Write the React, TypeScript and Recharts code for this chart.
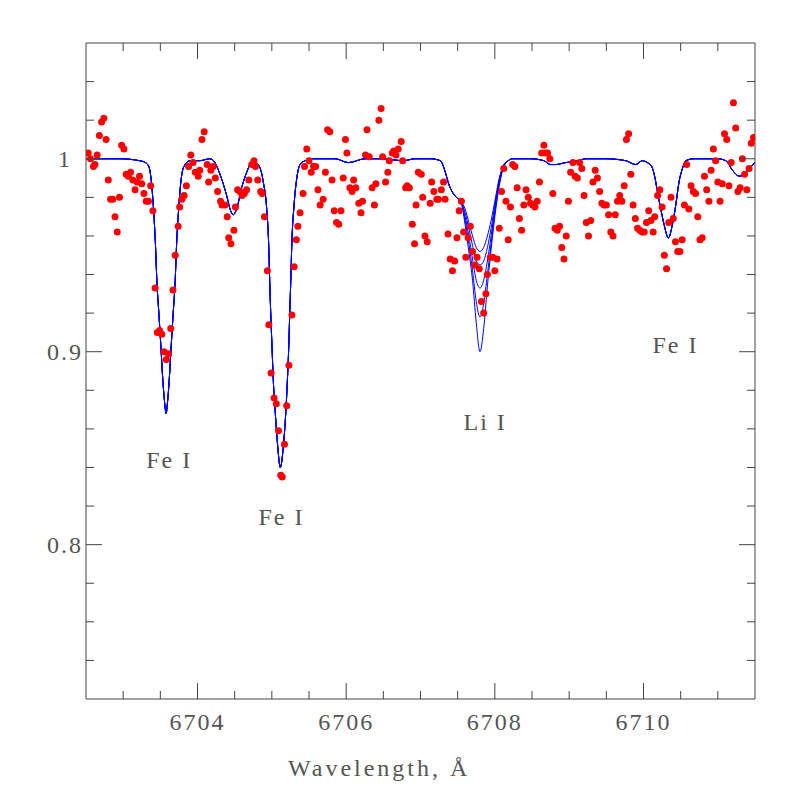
import { ComposedChart, XAxis, YAxis, Line, Scatter, ReferenceDot } from 'recharts';

// observed spectrum (wavelength in Å, normalised flux)
const obsWave = [
  6702.53, 6702.56, 6702.60, 6702.62, 6702.65, 6702.68, 6702.71, 6702.74, 6702.77, 6702.80,
  6702.83, 6702.86, 6702.89, 6702.92, 6702.95, 6702.98, 6703.01, 6703.04, 6703.07, 6703.10,
  6703.13, 6703.16, 6703.19, 6703.22, 6703.25, 6703.28, 6703.31, 6703.34, 6703.37, 6703.40,
  6703.43, 6703.46, 6703.49, 6703.52, 6703.55, 6703.58, 6703.61, 6703.64, 6703.67, 6703.70,
  6703.74, 6703.76, 6703.79, 6703.82, 6703.85, 6703.88, 6703.91, 6703.94, 6703.97, 6704.01,
  6704.03, 6704.06, 6704.09, 6704.13, 6704.15, 6704.18, 6704.21, 6704.24, 6704.27, 6704.31,
  6704.33, 6704.37, 6704.40, 6704.42, 6704.45, 6704.49, 6704.51, 6704.54, 6704.57, 6704.60,
  6704.63, 6704.66, 6704.69, 6704.73, 6704.76, 6704.78, 6704.81, 6704.85, 6704.87, 6704.90,
  6704.94, 6704.96, 6704.99, 6705.03, 6705.06, 6705.09, 6705.12, 6705.14, 6705.17, 6705.20,
  6705.23, 6705.27, 6705.30, 6705.33, 6705.35, 6705.38, 6705.42, 6705.44, 6705.47, 6705.50,
  6705.53, 6705.56, 6705.59, 6705.62, 6705.65, 6705.69, 6705.72, 6705.75, 6705.78, 6705.81,
  6705.84, 6705.87, 6705.90, 6705.93, 6705.96, 6705.99, 6706.01, 6706.05, 6706.08, 6706.10,
  6706.13, 6706.17, 6706.20, 6706.22, 6706.26, 6706.28, 6706.31, 6706.35, 6706.38, 6706.40,
  6706.44, 6706.47, 6706.49, 6706.53, 6706.56, 6706.58, 6706.62, 6706.64, 6706.67, 6706.70,
  6706.74, 6706.76, 6706.80, 6706.82, 6706.85, 6706.89, 6706.92, 6706.94, 6706.97, 6707.01,
  6707.03, 6707.06, 6707.09, 6707.13, 6707.15, 6707.18, 6707.22, 6707.24, 6707.28, 6707.31,
  6707.33, 6707.37, 6707.40, 6707.43, 6707.46, 6707.49, 6707.52, 6707.55, 6707.58, 6707.61,
  6707.64, 6707.67, 6707.70, 6707.73, 6707.76, 6707.79, 6707.82, 6707.85, 6707.88, 6707.90,
  6707.94, 6707.97, 6708.00, 6708.03, 6708.06, 6708.09, 6708.12, 6708.15, 6708.18, 6708.21,
  6708.24, 6708.27, 6708.30, 6708.33, 6708.36, 6708.39, 6708.42, 6708.45, 6708.48, 6708.51,
  6708.54, 6708.57, 6708.60, 6708.63, 6708.66, 6708.68, 6708.71, 6708.74, 6708.78, 6708.81,
  6708.84, 6708.87, 6708.90, 6708.93, 6708.96, 6708.99, 6709.02, 6709.05, 6709.08, 6709.11,
  6709.14, 6709.17, 6709.20, 6709.23, 6709.26, 6709.29, 6709.32, 6709.35, 6709.38, 6709.41,
  6709.44, 6709.47, 6709.50, 6709.53, 6709.56, 6709.59, 6709.62, 6709.65, 6709.68, 6709.71,
  6709.74, 6709.77, 6709.80, 6709.83, 6709.86, 6709.89, 6709.92, 6709.95, 6709.98, 6710.01,
  6710.04, 6710.07, 6710.10, 6710.13, 6710.15, 6710.19, 6710.22, 6710.25, 6710.28, 6710.31,
  6710.34, 6710.37, 6710.40, 6710.43, 6710.46, 6710.49, 6710.52, 6710.55, 6710.58, 6710.61,
  6710.64, 6710.67, 6710.70, 6710.73, 6710.76, 6710.79, 6710.82, 6710.85, 6710.88, 6710.91,
  6710.94, 6710.97, 6711.00, 6711.03, 6711.06, 6711.09, 6711.12, 6711.15, 6711.18, 6711.21,
  6711.24, 6711.27, 6711.30, 6711.33, 6711.36, 6711.39, 6711.42, 6711.45, 6711.48, 6711.50,
];

const obsFlux = [
  1.003, 1.000, 0.996, 0.997, 1.002, 1.012, 1.019, 1.021, 1.010, 0.989,
  0.979, 0.979, 0.970, 0.962, 0.980, 1.007, 1.005, 0.992, 0.991, 0.993,
  0.989, 0.984, 0.988, 0.991, 0.987, 0.982, 0.978, 0.978, 0.986, 0.973,
  0.933, 0.910, 0.911, 0.909, 0.900, 0.896, 0.899, 0.912, 0.932, 0.950,
  0.965, 0.975, 0.979, 0.981, 0.986, 0.996, 1.002, 0.998, 0.993, 0.991,
  0.994, 1.010, 1.014, 0.997, 0.988, 0.994, 0.996, 0.990, 0.983, 0.978,
  0.976, 0.976, 0.970, 0.959, 0.956, 0.963, 0.975, 0.984, 0.983, 0.981,
  0.982, 0.984, 0.989, 0.997, 0.999, 0.996, 0.989, 0.983, 0.982, 0.970,
  0.942, 0.914, 0.889, 0.876, 0.873, 0.859, 0.836, 0.835, 0.852, 0.872,
  0.893, 0.919, 0.944, 0.958, 0.965, 0.972, 0.982, 0.996, 1.005, 0.999,
  0.993, 0.996, 0.996, 0.984, 0.976, 0.979, 0.993, 1.015, 1.014, 0.989,
  0.973, 0.967, 0.966, 0.973, 0.990, 1.010, 1.003, 0.985, 0.983, 0.989,
  0.985, 0.977, 0.972, 0.978, 1.002, 1.015, 1.001, 0.985, 0.976, 0.987,
  1.020, 1.026, 1.001, 0.988, 0.993, 0.999, 1.003, 1.004, 1.002, 1.005,
  1.009, 0.999, 0.985, 0.986, 0.985, 0.966, 0.956, 0.976, 0.993, 0.992,
  0.980, 0.960, 0.957, 0.977, 0.988, 0.983, 0.979, 0.979, 0.984, 0.988,
  0.979, 0.961, 0.948, 0.942, 0.947, 0.959, 0.973, 0.978, 0.962, 0.949,
  0.959, 0.965, 0.952, 0.945, 0.949, 0.943, 0.926, 0.920, 0.930, 0.940,
  0.949, 0.949, 0.942, 0.948, 0.964, 0.983, 0.995, 0.978, 0.958, 0.975,
  0.997, 0.996, 0.985, 0.969, 0.963, 0.976, 0.984, 0.980, 0.977, 0.976,
  0.975, 0.978, 0.988, 1.003, 1.007, 1.003, 1.003, 1.000, 0.982, 0.964,
  0.963, 0.965, 0.954, 0.948, 0.960, 0.978, 0.993, 0.998, 0.991, 0.990,
  0.998, 0.995, 0.981, 0.967, 0.960, 0.968, 0.988, 0.994, 0.990, 0.983,
  0.977, 0.976, 0.976, 0.971, 0.962, 0.960, 0.971, 0.978, 0.981, 0.978,
  0.986, 1.010, 1.013, 0.992, 0.976, 0.969, 0.964, 0.963, 0.962, 0.962,
  0.967, 0.973, 0.968, 0.962, 0.970, 0.981, 0.984, 0.975, 0.950, 0.943,
  0.967, 0.980, 0.969, 0.957, 0.952, 0.952, 0.958, 0.976, 0.997, 0.974,
  0.986, 0.983, 0.982, 0.970, 0.958, 0.959, 0.991, 0.984, 0.978, 0.994,
  1.005, 0.999, 0.988, 0.978, 0.987, 1.013, 1.010, 0.986, 0.998, 1.029,
  1.016, 0.983, 0.985, 1.000, 0.992, 0.984, 0.995, 1.008, 1.011, 1.011,
];

// synthetic spectrum, common to all models outside the Li I blend
const modelWave = [
  6702.50, 6702.95, 6703.22, 6703.30, 6703.345, 6703.38, 6703.41, 6703.435, 6703.453, 6703.48,
  6703.507, 6703.534, 6703.557, 6703.578, 6703.597, 6703.619, 6703.646, 6703.673, 6703.70, 6703.718,
  6703.745, 6703.776, 6703.817, 6703.90, 6704.03, 6704.167, 6704.234, 6704.302, 6704.392, 6704.446,
  6704.481, 6704.527, 6704.594, 6704.662, 6704.729, 6704.774, 6704.832, 6704.885, 6704.931, 6704.958,
  6704.971, 6704.985, 6705.002, 6705.020, 6705.047, 6705.079, 6705.114, 6705.155, 6705.187, 6705.209,
  6705.228, 6705.241, 6705.255, 6705.268, 6705.299, 6705.336, 6705.380, 6705.448, 6705.559, 6705.85,
  6706.03, 6706.256, 6706.481, 6706.768, 6706.93, 6707.132, 6707.267, 6707.334, 6707.379, 6707.425,
  6707.482,
  6708.48, 6708.659, 6708.749, 6708.817, 6708.951, 6709.13, 6709.221, 6709.49, 6709.76, 6709.895,
  6709.985, 6710.052, 6710.11, 6710.155, 6710.187, 6710.232, 6710.276, 6710.335, 6710.389, 6710.434,
  6710.478, 6710.524, 6710.569, 6710.681, 6710.996, 6711.108, 6711.198, 6711.287, 6711.354, 6711.421,
  6711.50,
];

const modelFlux = [
  1.000, 1.000, 0.999, 0.998, 0.996, 0.988, 0.973, 0.955, 0.937, 0.920,
  0.903, 0.885, 0.874, 0.868, 0.874, 0.885, 0.903, 0.920, 0.937, 0.955,
  0.973, 0.988, 0.996, 0.999, 0.999, 1.000, 0.998, 0.992, 0.981, 0.973,
  0.971, 0.974, 0.985, 0.993, 0.998, 0.998, 0.996, 0.988, 0.974, 0.955,
  0.937, 0.920, 0.903, 0.885, 0.868, 0.851, 0.840, 0.851, 0.868, 0.885,
  0.903, 0.920, 0.937, 0.955, 0.976, 0.990, 0.997, 0.999, 1.000, 1.000,
  0.998, 1.000, 1.000, 0.999, 1.000, 1.000, 0.999, 0.993, 0.987, 0.983,
  0.980,
  1.000, 0.999, 0.997, 0.997, 0.998, 0.999, 1.000, 1.000, 0.999, 0.997,
  0.999, 0.998, 0.996, 0.990, 0.983, 0.974, 0.966, 0.959, 0.966, 0.976,
  0.988, 0.995, 0.999, 1.000, 1.000, 0.999, 0.994, 0.991, 0.992, 0.995,
  0.998,
];

// Li I 6707.8 blend for five lithium abundances
const liWave = [
  6707.54, 6707.60, 6707.65, 6707.70, 6707.75, 6707.80, 6707.85,
  6707.90, 6707.95, 6708.00, 6708.06, 6708.12, 6708.18, 6708.24,
];
const liFlux1 = [0.978, 0.974, 0.967, 0.960, 0.954, 0.952, 0.954, 0.960, 0.968, 0.978, 0.990, 0.997, 0.999, 1.000];
const liFlux2 = [0.978, 0.972, 0.964, 0.955, 0.947, 0.945, 0.947, 0.954, 0.964, 0.976, 0.989, 0.997, 0.999, 1.000];
const liFlux3 = [0.978, 0.970, 0.960, 0.948, 0.937, 0.933, 0.937, 0.947, 0.960, 0.974, 0.988, 0.996, 0.999, 1.000];
const liFlux4 = [0.978, 0.968, 0.956, 0.942, 0.926, 0.918, 0.925, 0.940, 0.956, 0.972, 0.987, 0.996, 0.999, 1.000];
const liFlux5 = [0.978, 0.966, 0.952, 0.937, 0.915, 0.900, 0.912, 0.934, 0.953, 0.970, 0.986, 0.996, 0.999, 1.000];

const lineNames = ['Fe I', 'Fe I', 'Li I', 'Fe I'];
const lineLabelWave = [6703.62, 6705.13, 6707.87, 6710.43];
const lineLabelFlux = [0.844, 0.8145, 0.864, 0.9035];

const xTicks = [6703, 6703.5, 6704, 6704.5, 6705, 6705.5, 6706, 6706.5, 6707, 6707.5, 6708, 6708.5, 6709, 6709.5, 6710, 6710.5, 6711];
const yTicks = [0.74, 0.76, 0.78, 0.8, 0.82, 0.84, 0.86, 0.88, 0.9, 0.92, 0.94, 0.96, 0.98, 1, 1.02, 1.04];

const FONT = '"Liberation Serif", "DejaVu Serif", serif';
const TICK = '#444';
const TEXT = '#555';

const observed = obsWave.map((w, i) => ({ w, f: obsFlux[i] }));
const base = modelWave.map((w, i) => ({ w, f: modelFlux[i] }));
const models = [liFlux1, liFlux2, liFlux3, liFlux4, liFlux5].map((lf) => [
  ...base.filter((p) => p.w < 6707.5),
  ...liWave.map((w, i) => ({ w, f: lf[i] })),
  ...base.filter((p) => p.w > 6708.3),
]);

function XTick(props: any) {
  const { x, y, payload, side } = props;
  const v = payload.value as number;
  const major = Math.abs(v % 2) < 1e-6;
  const len = major ? 16 : 8;
  const dir = side === 'top' ? 1 : -1;
  return (
    <g>
      <line x1={x} y1={y} x2={x} y2={y + dir * len} stroke={TICK} strokeWidth={1} />
      {major && side === 'bottom' && (
        <text x={x} y={y + 31} textAnchor="middle" fill={TEXT} fontSize={24} fontFamily={FONT} letterSpacing={2}>
          {v}
        </text>
      )}
    </g>
  );
}

function YTick(props: any) {
  const { x, y, payload, side } = props;
  const v = payload.value as number;
  const major = Math.abs(v * 10 - Math.round(v * 10)) < 1e-6;
  const len = major ? 16 : 8;
  const dir = side === 'left' ? 1 : -1;
  return (
    <g>
      <line x1={x} y1={y} x2={x + dir * len} y2={y} stroke={TICK} strokeWidth={1} />
      {major && side === 'left' && (
        <text x={x - 21} y={y + 8} textAnchor="middle" fill={TEXT} fontSize={24} fontFamily={FONT} letterSpacing={2}>
          {v === 1 ? '1' : v.toFixed(1)}
        </text>
      )}
    </g>
  );
}

function XTitle(props: any) {
  const { viewBox } = props;
  return (
    <text x={viewBox.x + 202} y={viewBox.y + 77} fill={TEXT} fontSize={24} fontFamily={FONT} letterSpacing={3}>
      Wavelength, Å
    </text>
  );
}

const dotShape = (p: any) => <circle cx={p.cx} cy={p.cy} r={3.5} fill="#ff0000" />;

export default function App() {
  return (
    <div style={{ position: 'absolute', left: 0, top: 0, width: 797, height: 797, background: '#fff' }}>
      <ComposedChart width={797} height={797} margin={{ top: 0, right: 0, bottom: 0, left: 0 }}>
        <XAxis
          xAxisId="b"
          dataKey="w"
          type="number"
          orientation="bottom"
          domain={[6702.5, 6711.5]}
          allowDataOverflow
          ticks={xTicks}
          interval={0}
          height={98}
          tickSize={0}
          tickMargin={0}
          tickLine={false}
          axisLine={{ stroke: TICK }}
          tick={<XTick side="bottom" />}
          label={<XTitle />}
        />
        <XAxis
          xAxisId="t"
          dataKey="w"
          type="number"
          orientation="top"
          domain={[6702.5, 6711.5]}
          allowDataOverflow
          ticks={xTicks}
          interval={0}
          height={43}
          tickSize={0}
          tickMargin={0}
          tickLine={false}
          axisLine={{ stroke: TICK }}
          tick={<XTick side="top" />}
        />
        <YAxis
          yAxisId="l"
          dataKey="f"
          type="number"
          orientation="left"
          domain={[0.72, 1.06]}
          allowDataOverflow
          ticks={yTicks}
          interval={0}
          width={86}
          tickSize={0}
          tickMargin={0}
          tickLine={false}
          axisLine={{ stroke: TICK }}
          tick={<YTick side="left" />}
        />
        <YAxis
          yAxisId="r"
          dataKey="f"
          type="number"
          orientation="right"
          domain={[0.72, 1.06]}
          allowDataOverflow
          ticks={yTicks}
          interval={0}
          width={42}
          tickSize={0}
          tickMargin={0}
          tickLine={false}
          axisLine={{ stroke: TICK }}
          tick={<YTick side="right" />}
        />
        <Scatter
          xAxisId="b"
          yAxisId="l"
          data={observed}
          dataKey="f"
          shape={dotShape}
          isAnimationActive={false}
        />
        {models.map((m, i) => (
          <Line
            key={i}
            xAxisId="b"
            yAxisId="l"
            data={m}
            dataKey="f"
            type="monotone"
            stroke="#0000ff"
            strokeWidth={1}
            dot={false}
            activeDot={false}
            isAnimationActive={false}
          />
        ))}
        {lineNames.map((name, i) => (
          <ReferenceDot
            key={i}
            xAxisId="b"
            yAxisId="l"
            x={lineLabelWave[i]}
            y={lineLabelFlux[i]}
            r={1}
            fill="none"
            stroke="none"
            label={{ value: name, position: 'center', fill: TEXT, fontSize: 24, fontFamily: FONT, letterSpacing: 2 }}
          />
        ))}
      </ComposedChart>
    </div>
  );
}
